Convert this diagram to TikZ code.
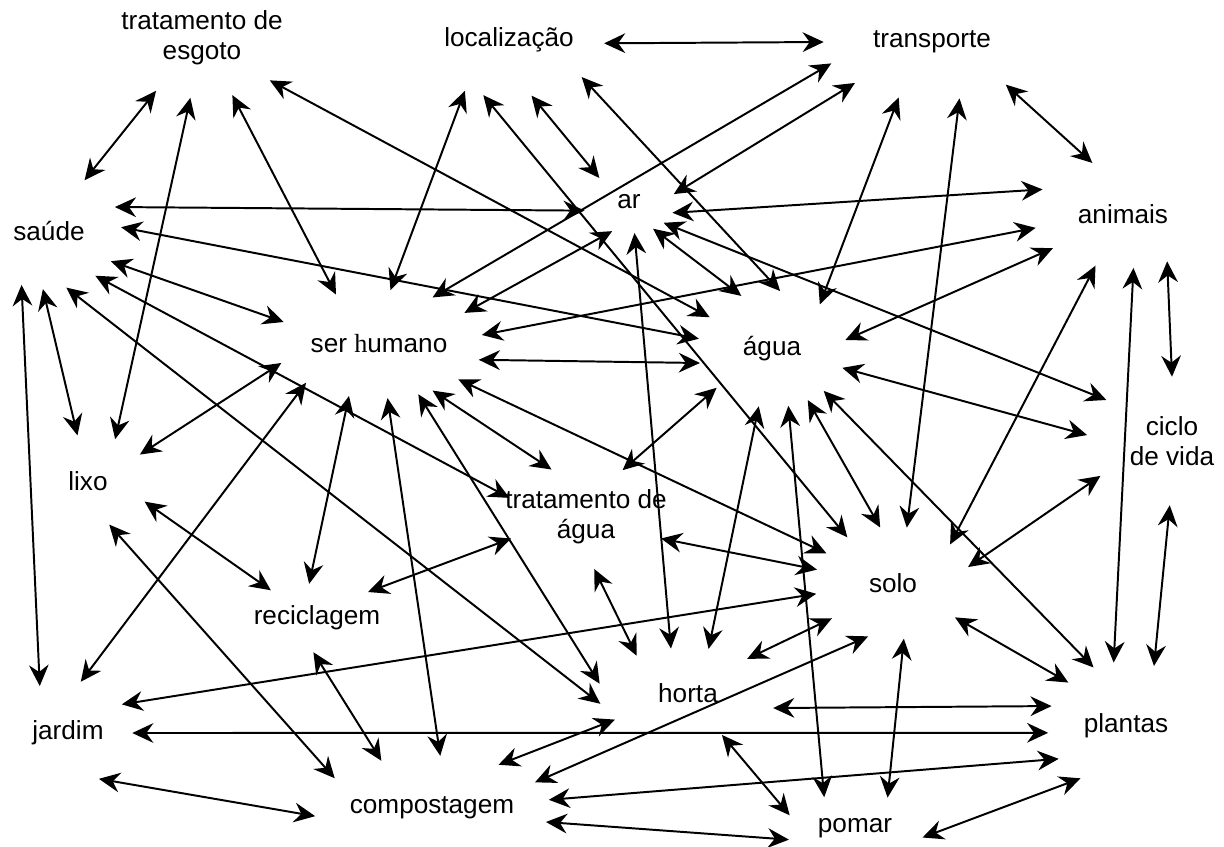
\documentclass[tikz,border=0pt]{standalone}
\usepackage{fontspec}
\setmainfont{Liberation Sans}
\newfontfamily\serifh{Liberation Serif}
\usetikzlibrary{arrows.meta,shapes.geometric}
\newcommand{\px}{0.025cm}

\begin{document}
\begin{tikzpicture}[x=\px,y=-\px,
  termo/.style n args={3}{ellipse,inner sep=0pt,minimum width=2*#1*\px,minimum height=2*#2*\px,
    label={[font=\fontsize{18.6}{21.5}\selectfont,align=center,inner sep=0pt]center:#3}},
  liga/.style={{Stealth[length=15pt,width=14pt,inset=5pt]}-{Stealth[length=15pt,width=14pt,inset=5pt]},
    line width=1.4pt}]
  \useasboundingbox (0,0) rectangle (1224,847);
  \node[termo={95}{60}{tratamento de\\esgoto}] (esg) at (202,38) {};
  \node[termo={95}{57}{localização}] (loc) at (509,40) {};
  \node[termo={108}{58}{transporte}] (transp) at (932,42) {};
  \node[termo={72}{58}{saúde}] (saude) at (49,231) {};
  \node[termo={46}{31}{ar}] (ar) at (629,202) {};
  \node[termo={90}{54}{animais}] (anim) at (1123,214) {};
  \node[termo={104}{54}{ser {\serifh h}umano}] (serh) at (379,344) {};
  \node[termo={74}{58}{água}] (agua) at (772,349) {};
  \node[termo={85}{64}{ciclo\\de vida}] (ciclo) at (1172,441) {};
  \node[termo={63}{46}{lixo}] (lixo) at (88,481) {};
  \node[termo={82}{52}{tratamento de\\água}] (tagua) at (586,517) {};
  \node[termo={78}{56}{solo}] (solo) at (893,583) {};
  \node[termo={78}{34}{reciclagem}] (recicl) at (317,618) {};
  \node[termo={90}{45}{horta}] (horta) at (688,693) {};
  \node[termo={64}{52}{jardim}] (jardim) at (68,733) {};
  \node[termo={78}{64}{plantas}] (plantas) at (1126,726) {};
  \node[termo={118}{52}{compostagem}] (compost) at (432,808) {};
  \node[termo={70}{34}{pomar}] (pomar) at (855,828) {};
  \foreach \a/\b in {esg.229/saude.55, esg.259/lixo.57, esg.-62/serh.131, esg.-32/agua.153,
      saude.20/ar.191, saude.3/agua.172, saude.-26/serh.167, saude.-44/tagua.166,
      saude.-73/horta.187, saude.264/lixo.103, saude.243/jardim.121,
      loc.-2/transp.180, loc.229/serh.78, loc.-68/ar.141, loc.-27/agua.82, loc.245/solo.135,
      transp.192/serh.41, transp.208/ar.10, transp.239/agua.43, transp.-64/solo.76,
      transp.-30/anim.121}
    \draw[liga] (\a) -- (\b);
  \foreach \a/\b in {ar.240/serh.20, ar.-48/agua.120, ar.-80/horta.111, ar.-14/anim.163,
      ar.-31/ciclo.148, anim.189/serh.5, anim.206/agua.7, anim.242/solo.34, anim.-47/ciclo.90,
      anim.-79/plantas.101, serh.-9/agua.191, serh.-24/solo.156, serh.-41/tagua.126,
      serh.-52/horta.174, serh.-81/compost.81, serh.240/recicl.103, serh.208/jardim.76,
      serh.191/lixo.27}
    \draw[liga] (\a) -- (\b);
  \foreach \a/\b in {agua.215/tagua.52, agua.257/horta.65, agua.-74/pomar.135,
      agua.-55/solo.103, agua.-39/plantas.119, agua.-15/ciclo.176, ciclo.206/solo.12,
      ciclo.268/plantas.65, lixo.-20/recicl.149, lixo.-64/compost.163, tagua.196/recicl.27,
      tagua.-81/horta.144, tagua.-16/solo.170, recicl.264/compost.137}
    \draw[liga] (\a) -- (\b);
  \foreach \a/\b in {jardim.28/solo.188, jardim.0/plantas.185, jardim.-56/compost.184,
      horta.30/solo.210, horta.-10/plantas.165, horta.200/compost.33, horta.-51/pomar.169,
      compost.14/solo.245, compost.4/plantas.206, compost.-7/pomar.190, solo.-79/pomar.43,
      solo.-29/plantas.143, pomar.-8/plantas.229}
    \draw[liga] (\a) -- (\b);
\end{tikzpicture}
\end{document}
